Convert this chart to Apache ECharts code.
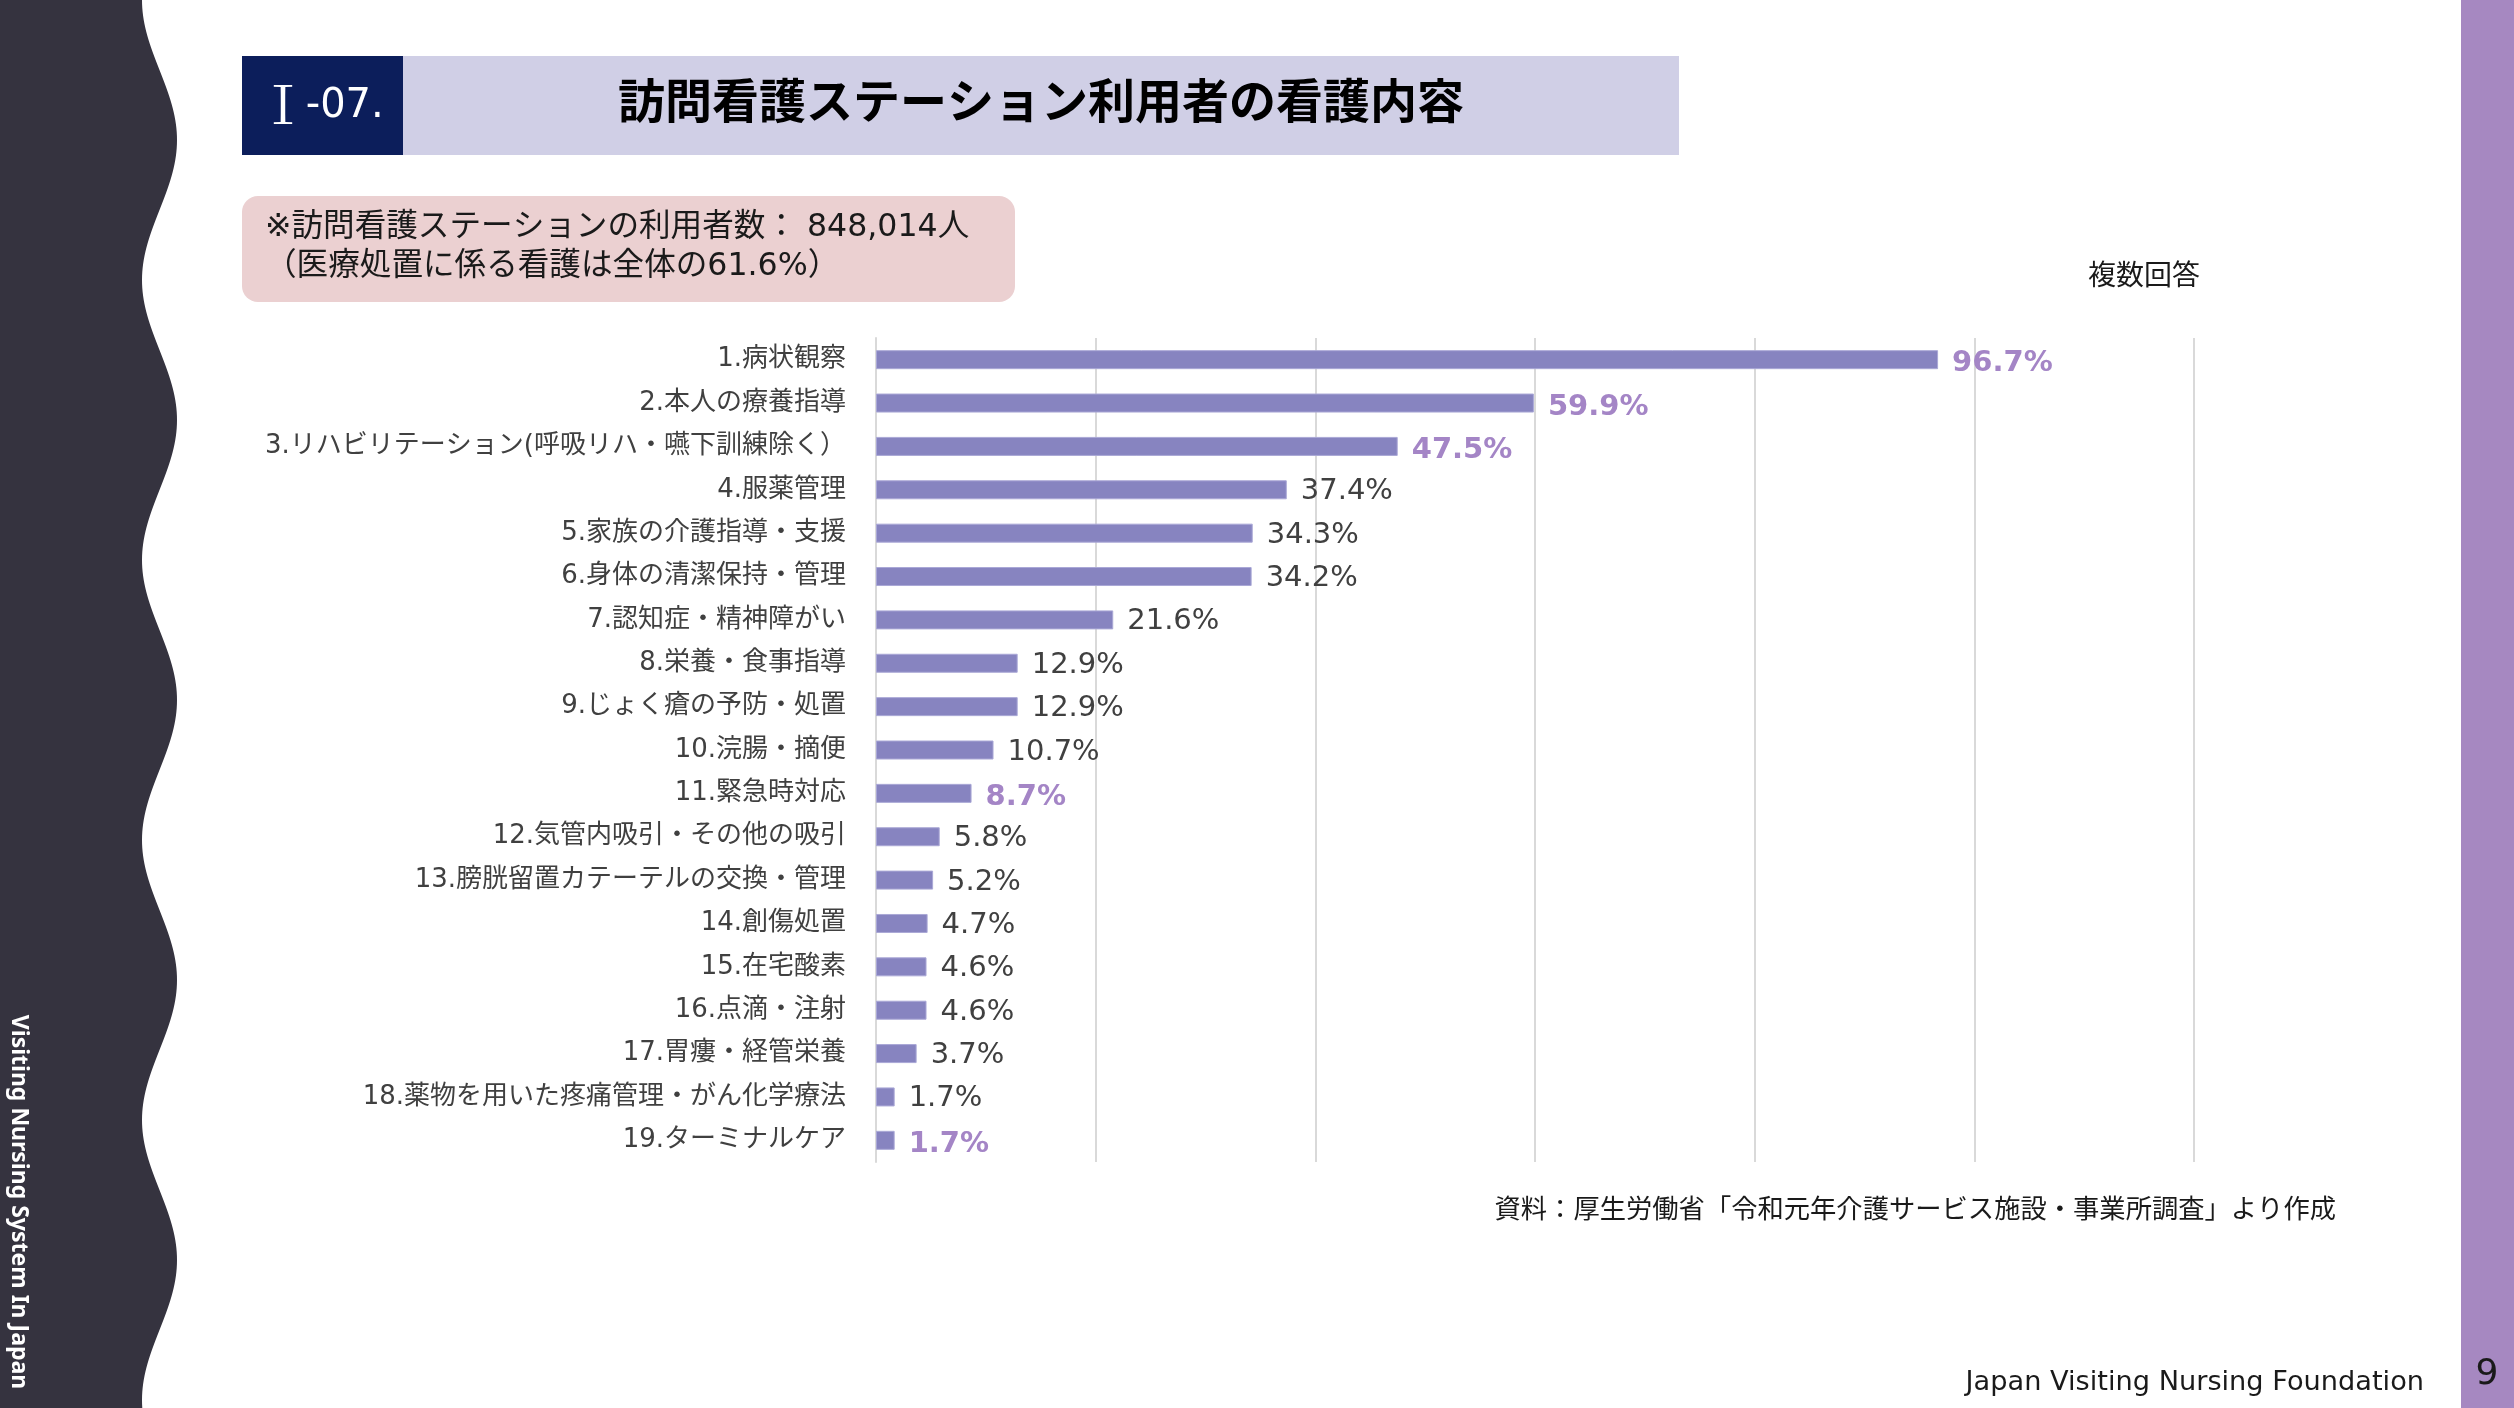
<!DOCTYPE html>
<html>
<head>
<meta charset="utf-8">
<script src="https://cdn.jsdelivr.net/npm/echarts@6/dist/echarts.min.js"></script>
<style>
html,body{margin:0;padding:0;background:#ffffff;}
#chart{width:2514px;height:1408px;}
</style>
</head>
<body>
<div id="chart"></div>
<script>
const categories = [
  '1.病状観察',
  '2.本人の療養指導',
  '3.リハビリテーション(呼吸リハ・嚥下訓練除く）',
  '4.服薬管理',
  '5.家族の介護指導・支援',
  '6.身体の清潔保持・管理',
  '7.認知症・精神障がい',
  '8.栄養・食事指導',
  '9.じょく瘡の予防・処置',
  '10.浣腸・摘便',
  '11.緊急時対応',
  '12.気管内吸引・その他の吸引',
  '13.膀胱留置カテーテルの交換・管理',
  '14.創傷処置',
  '15.在宅酸素',
  '16.点滴・注射',
  '17.胃瘻・経管栄養',
  '18.薬物を用いた疼痛管理・がん化学療法',
  '19.ターミナルケア'
];
const values = [96.7, 59.9, 47.5, 37.4, 34.3, 34.2, 21.6, 12.9, 12.9, 10.7, 8.7, 5.8, 5.2, 4.7, 4.6, 4.6, 3.7, 1.7, 1.7];
const highlighted = ['1.病状観察', '2.本人の療養指導', '3.リハビリテーション(呼吸リハ・嚥下訓練除く）', '11.緊急時対応', '19.ターミナルケア'];
const xTicks = [0, 20, 40, 60, 80, 100, 120];

const titleText = '訪問看護ステーション利用者の看護内容';
const sectionNum = 'Ⅰ';
const sectionText = ' -07.';
const noteLines = ['※訪問看護ステーションの利用者数： 848,014人', '（医療処置に係る看護は全体の61.6%）'];
const multiText = '複数回答';
const sourceText = '資料：厚生労働省「令和元年介護サービス施設・事業所調査」より作成';
const footerText = 'Japan Visiting Nursing Foundation';
const sideText = 'Visiting Nursing System In Japan';
const pageNo = '9';

const CJK = '"DejaVu Sans", "Noto Sans CJK JP", sans-serif';
const HL = '#a485c6';

// decorative wavy band on the left
const wave = [[0, 0]];
for (let y = 0; y <= 1408; y += 4) {
  wave.push([159.5 - 17.5 * Math.cos(2 * Math.PI * y / 280), y]);
}
wave.push([0, 1408]);

const chart = echarts.init(document.getElementById('chart'), null, {renderer: 'canvas'});

const barData = values.map((v, i) => {
  const hl = highlighted.indexOf(categories[i]) >= 0;
  return {
    value: v,
    label: hl ? {color: HL, fontWeight: 'bold', offset: [0, 4]} : {color: '#404040', fontWeight: 'normal', offset: [0, 2]}
  };
});

chart.setOption({
  backgroundColor: '#ffffff',
  animation: false,
  grid: {left: 876, right: 320, top: 338, bottom: 246, containLabel: false},
  xAxis: {
    type: 'value',
    min: xTicks[0],
    max: xTicks[xTicks.length - 1],
    interval: xTicks[1] - xTicks[0],
    axisLabel: {show: false},
    axisLine: {show: false},
    axisTick: {show: false},
    splitLine: {show: true, lineStyle: {color: '#d9d9d9', width: 2}}
  },
  yAxis: {
    type: 'category',
    data: categories,
    inverse: true,
    axisLine: {show: true, lineStyle: {color: '#d9d9d9', width: 2}},
    axisTick: {show: false},
    axisLabel: {color: '#404040', fontSize: 26, fontFamily: CJK, margin: 30}
  },
  series: [{
    type: 'bar',
    data: barData,
    barWidth: 19,
    itemStyle: {color: '#8784c0', borderColor: '#aaa8d6', borderWidth: 1},
    label: {
      show: true,
      position: 'right',
      distance: 14,
      fontSize: 29,
      fontFamily: '"DejaVu Sans", sans-serif',
      formatter: p => p.value.toFixed(1) + '%'
    }
  }],
  graphic: [
    {type: 'polygon', shape: {points: wave}, style: {fill: '#35333f'}, silent: true},
    {type: 'rect', shape: {x: 2461, y: 0, width: 53, height: 1408}, style: {fill: '#a688c1'}, silent: true},
    {type: 'rect', shape: {x: 242, y: 56, width: 161, height: 99}, style: {fill: '#0c1e5b'}},
    {type: 'rect', shape: {x: 403, y: 56, width: 1276, height: 99}, style: {fill: '#d0cfe6'}},
    {type: 'text', style: {text: sectionNum, x: 283, y: 104, align: 'center', verticalAlign: 'middle',
      fill: '#ffffff', fontSize: 52, fontFamily: '"Noto Serif CJK JP", "Liberation Serif", serif'}},
    {type: 'text', style: {text: sectionText, x: 293, y: 107, align: 'left', verticalAlign: 'middle',
      fill: '#ffffff', fontSize: 40, fontFamily: CJK}},
    {type: 'text', style: {text: titleText, x: 1041, y: 100, align: 'center', verticalAlign: 'middle',
      fill: '#000000', fontSize: 47, fontWeight: 'bold', fontFamily: '"Noto Sans CJK JP", sans-serif'}},
    {type: 'rect', shape: {x: 242, y: 196, width: 773, height: 106, r: 16}, style: {fill: '#ebd0d1'}},
    {type: 'text', style: {text: noteLines[0], x: 265, y: 228, align: 'left', verticalAlign: 'middle',
      fill: '#1a1a1a', fontSize: 31.6, fontFamily: CJK}},
    {type: 'text', style: {text: noteLines[1], x: 265, y: 267, align: 'left', verticalAlign: 'middle',
      fill: '#1a1a1a', fontSize: 31.6, fontFamily: CJK}},
    {type: 'text', style: {text: multiText, x: 2144, y: 278, align: 'center', verticalAlign: 'middle',
      fill: '#1a1a1a', fontSize: 28, fontFamily: CJK}},
    {type: 'text', style: {text: sourceText, x: 2336, y: 1211, align: 'right', verticalAlign: 'middle',
      fill: '#1a1a1a', fontSize: 26.3, fontFamily: CJK}},
    {type: 'text', style: {text: footerText, x: 2424, y: 1383, align: 'right', verticalAlign: 'middle',
      fill: '#1a1a1a', fontSize: 27.2, fontFamily: '"DejaVu Sans", sans-serif'}},
    {type: 'text', style: {text: pageNo, x: 2487, y: 1375, align: 'center', verticalAlign: 'middle',
      fill: '#1a1a1a', fontSize: 36, fontFamily: '"DejaVu Sans", sans-serif'}},
    {type: 'text', x: 19, y: 1202, rotation: -Math.PI / 2,
      style: {text: sideText, x: 0, y: 0, align: 'center', verticalAlign: 'middle',
        fill: '#ffffff', fontSize: 23, fontWeight: 'bold', fontFamily: '"Noto Sans", sans-serif'}}
  ]
});
</script>
</body>
</html>
